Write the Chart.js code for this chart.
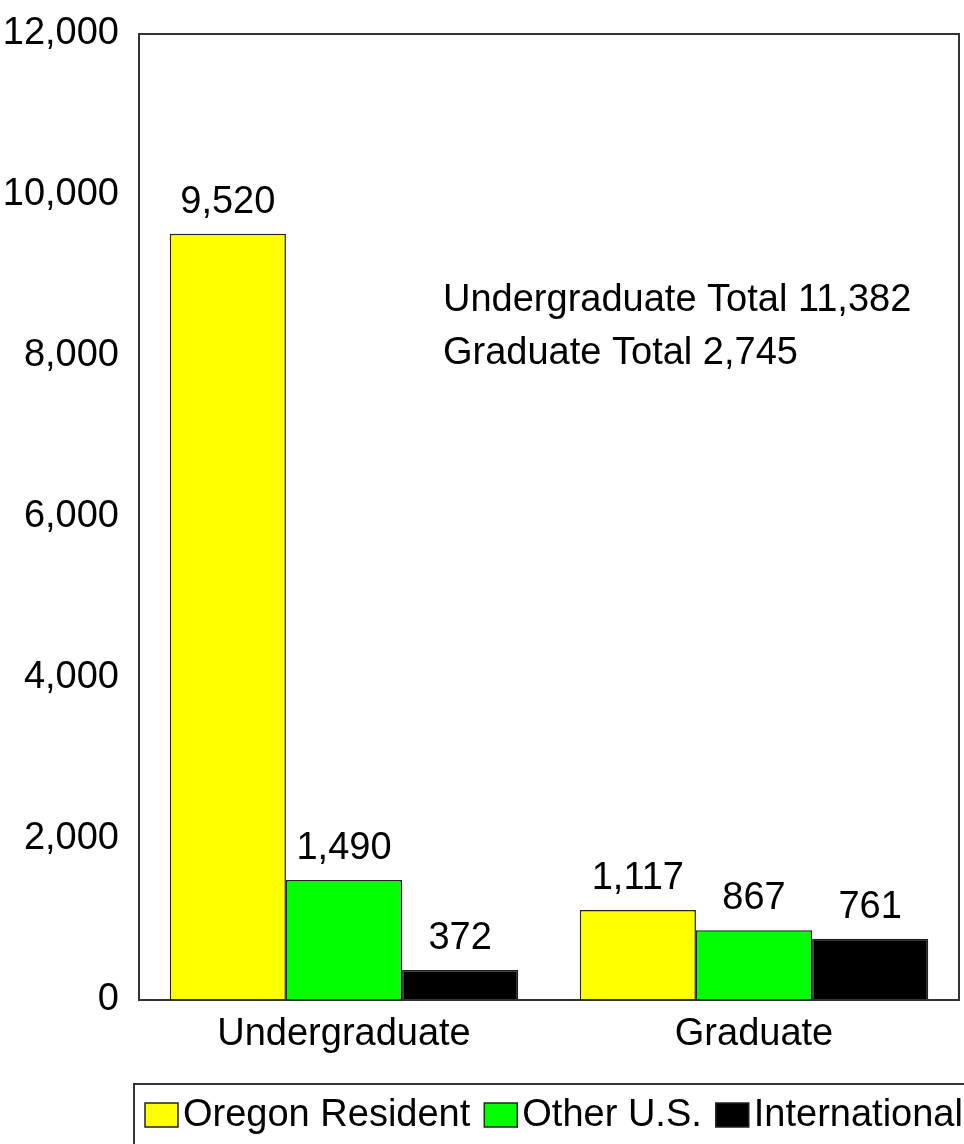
<!DOCTYPE html>
<html>
<head>
<meta charset="utf-8">
<script src="https://cdn.jsdelivr.net/npm/chart.js@4"></script>
<style>
  html, body { margin: 0; padding: 0; background: #fff; }
  #wrap { width: 964px; height: 1144px; position: relative; }
</style>
</head>
<body>
<div id="wrap"><canvas id="c" width="964" height="1144"></canvas></div>
<script>
const categories = ["Undergraduate", "Graduate"];
const seriesNames = ["Oregon Resident", "Other U.S.", "International"];
const oregonResident = [9520, 1117];
const otherUS = [1490, 867];
const international = [372, 761];
const seriesColors = ["#FFFF00", "#00FF00", "#000000"];
const annotationLines = ["Undergraduate Total 11,382", "Graduate Total 2,745"];
const yMin = 0, yMax = 12000, yStep = 2000;

const FONT = "'Liberation Sans', Arial, sans-serif";
const FS = 38;

const fmt = v => Number(v).toLocaleString('en-US');

const overlayPlugin = {
  id: 'overlay',
  afterDatasetsDraw(chart) {
    const ctx = chart.ctx;
    const a = chart.chartArea;
    ctx.save();
    // frame
    ctx.strokeStyle = '#333';
    ctx.lineWidth = 2;
    ctx.strokeRect(a.left, a.top, a.right - a.left, a.bottom - a.top);
    // value labels
    ctx.fillStyle = '#000';
    ctx.font = FS + 'px ' + FONT;
    ctx.textAlign = 'center';
    ctx.textBaseline = 'alphabetic';
    chart.data.datasets.forEach((ds, i) => {
      const meta = chart.getDatasetMeta(i);
      meta.data.forEach((bar, j) => {
        ctx.fillText(fmt(ds.data[j]), bar.x, bar.y - 21);
      });
    });
    // annotation
    ctx.textAlign = 'left';
    annotationLines.forEach((t, k) => {
      ctx.fillText(t, 443, 311 + k * 53);
    });
    // legend
    const ly = 1084;
    ctx.strokeStyle = '#333';
    ctx.lineWidth = 2;
    ctx.beginPath();
    ctx.moveTo(134, chart.height + 5);
    ctx.lineTo(134, ly);
    ctx.lineTo(chart.width + 5, ly);
    ctx.stroke();
    let x = 145;
    chart.data.datasets.forEach((ds, i) => {
      ctx.fillStyle = ds.backgroundColor;
      ctx.fillRect(x, 1103, 33, 24);
      ctx.strokeStyle = '#222';
      ctx.lineWidth = 1.5;
      ctx.strokeRect(x, 1103, 33, 24);
      ctx.fillStyle = '#000';
      ctx.fillText(ds.label, x + 38, 1126);
      x += 38 + ctx.measureText(ds.label).width + 14;
    });
    ctx.restore();
  }
};

new Chart(document.getElementById('c'), {
  type: 'bar',
  data: {
    labels: categories,
    datasets: [
      { label: seriesNames[0], data: oregonResident, backgroundColor: seriesColors[0] },
      { label: seriesNames[1], data: otherUS, backgroundColor: seriesColors[1] },
      { label: seriesNames[2], data: international, backgroundColor: seriesColors[2] }
    ].map(d => Object.assign(d, { borderColor: '#222', borderWidth: 1.5, categoryPercentage: 0.85, barPercentage: 1.0 }))
  },
  options: {
    responsive: false,
    animation: false,
    devicePixelRatio: 1,
    layout: { padding: { top: 34, right: 5, bottom: 84, left: 0 } },
    plugins: { legend: { display: false }, tooltip: { enabled: false } },
    scales: {
      x: {
        grid: { display: false, drawTicks: false },
        border: { display: false },
        ticks: { color: '#000', font: { family: FONT, size: FS }, padding: 12 },
        afterFit(s) { s.height = 60; s.paddingLeft = 0; s.paddingRight = 0; }
      },
      y: {
        min: yMin, max: yMax,
        grid: { display: false, drawTicks: false },
        border: { display: false },
        ticks: { stepSize: yStep, color: '#000', font: { family: FONT, size: FS }, padding: 20, callback: v => fmt(v) },
        afterFit(s) { s.width = 139; s.paddingTop = 0; s.paddingBottom = 0; }
      }
    }
  },
  plugins: [overlayPlugin]
});
</script>
</body>
</html>
